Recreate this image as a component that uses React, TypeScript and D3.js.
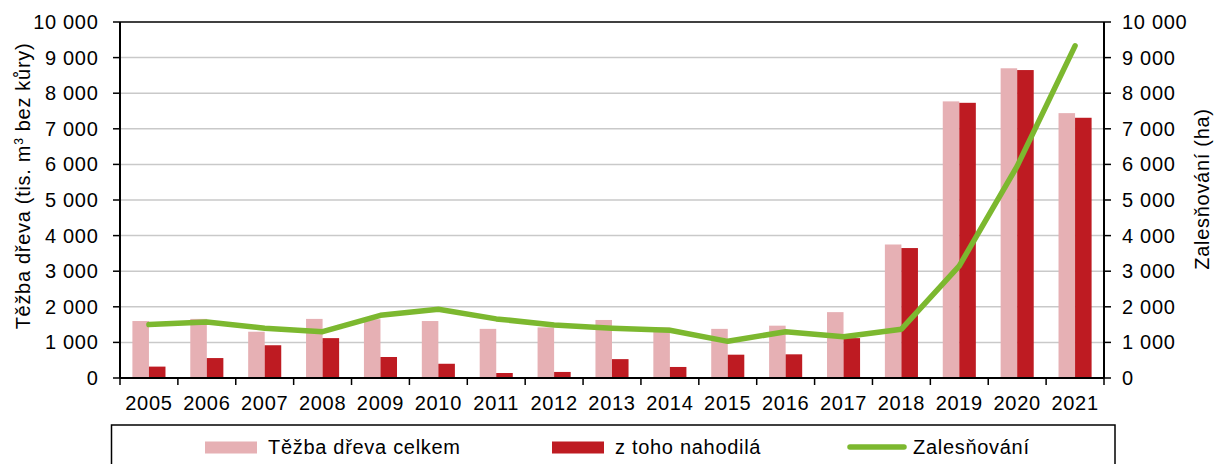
import React from "react";
import * as d3 from "d3";

const years = ["2005","2006","2007","2008","2009","2010","2011","2012","2013","2014","2015","2016","2017","2018","2019","2020","2021"];
const tezbaCelkem = [1600,1660,1300,1660,1650,1600,1380,1420,1630,1420,1380,1470,1850,3750,7770,8700,7440];
const nahodila = [320,560,920,1120,590,400,140,170,530,310,655,665,1120,3650,7730,8650,7310];
const zalesnovani = [1500,1570,1400,1300,1760,1930,1660,1490,1400,1340,1030,1300,1160,1370,3150,5950,9330];
const yTicks = [0,1000,2000,3000,4000,5000,6000,7000,8000,9000,10000];

const W = 1215, H = 464;
const L = 120, R = 1104, T = 22, B = 378;
const FONT = "'Liberation Sans', Arial, sans-serif";
const PINK = "#e6b0b4", RED = "#be1b22", GREEN = "#7cb82f";
const FS = 20;
const LS = 0.7;

const fmt = (v: number) => {
  const s = String(v);
  return s.replace(/\B(?=(\d{3})+(?!\d))/g, "\u00a0");
};

export default function App() {
  const x = d3.scaleBand<string>().domain(years).range([L, R]).padding(0);
  const yL = d3.scaleLinear().domain([0, 10000]).range([B, T]);
  const yR = d3.scaleLinear().domain([0, 10000]).range([B, T]);
  const step = x.bandwidth();
  const bw = step / 3.5;
  const off = bw * 0.75;
  const line = d3.line<number>()
    .x((_, i) => (x(years[i]) as number) + step / 2)
    .y((d) => yR(d));

  return (
    <div style={{ position: "absolute", left: 0, top: 0 }}>
      <svg width={W} height={H} style={{ display: "block", fontFamily: FONT, letterSpacing: LS }}>
        <rect width={W} height={H} fill="#fff" />
        {yTicks.slice(1, -1).map((t) => (
          <line key={"g" + t} x1={L} x2={R} y1={yL(t)} y2={yL(t)} stroke="#c9c9c9" strokeWidth={1.5} />
        ))}
        {years.map((yr, i) => {
          const x0 = x(yr) as number;
          return (
            <g key={yr}>
              <rect x={x0 + off} y={yL(tezbaCelkem[i])} width={bw} height={B - yL(tezbaCelkem[i])} fill={PINK} />
              <rect x={x0 + off + bw} y={yL(nahodila[i])} width={bw} height={B - yL(nahodila[i])} fill={RED} />
            </g>
          );
        })}
        <path d={line(zalesnovani) || ""} fill="none" stroke={GREEN} strokeWidth={5.5} strokeLinejoin="round" strokeLinecap="round" />
        {/* axes */}
        <line x1={L} x2={R} y1={T} y2={T} stroke="#000" strokeWidth={1.5} />
        <line x1={L} x2={L} y1={T} y2={B} stroke="#000" strokeWidth={2} />
        <line x1={R} x2={R} y1={T} y2={B} stroke="#000" strokeWidth={2} />
        <line x1={L} x2={R} y1={B} y2={B} stroke="#000" strokeWidth={2} />
        {yTicks.map((t) => (
          <g key={"l" + t}>
            <line x1={L - 7} x2={L} y1={yL(t)} y2={yL(t)} stroke="#000" strokeWidth={1.5} />
            <text x={98.5} y={yL(t)} dy="0.35em" textAnchor="end" fontSize={FS} fill="#000">{fmt(t)}</text>
            <line x1={R} x2={R + 7} y1={yR(t)} y2={yR(t)} stroke="#000" strokeWidth={1.5} />
            <text x={1122} y={yR(t)} dy="0.35em" textAnchor="start" fontSize={FS} fill="#000">{fmt(t)}</text>
          </g>
        ))}
        {years.map((yr) => (
          <line key={"xt" + yr} x1={x(yr) as number} x2={x(yr) as number} y1={B} y2={B + 7} stroke="#000" strokeWidth={1.5} />
        ))}
        <line x1={R} x2={R} y1={B} y2={B + 7} stroke="#000" strokeWidth={1.5} />
        {years.map((yr) => (
          <text key={"xl" + yr} x={(x(yr) as number) + step / 2} y={410} textAnchor="middle" fontSize={FS} fill="#000">{yr}</text>
        ))}
        <text transform={`translate(30,186) rotate(-90)`} textAnchor="middle" fontSize={FS} fill="#000">
          Těžba dřeva (tis. m<tspan baseline-shift="super" fontSize={12}>3</tspan> bez kůry)
        </text>
        <text transform={`translate(1209,189) rotate(-90)`} textAnchor="middle" fontSize={FS} fill="#000">Zalesňování (ha)</text>
        {/* legend */}
        <rect x={111.5} y={425} width={1003.5} height={50} fill="none" stroke="#000" strokeWidth={1.5} />
        <rect x={205} y={441.5} width={52} height={12} fill={PINK} />
        <text x={268} y={454} fontSize={FS} fill="#000">Těžba dřeva celkem</text>
        <rect x={552} y={441.5} width={52} height={12} fill={RED} />
        <text x={615} y={454} fontSize={FS} fill="#000">z toho nahodilá</text>
        <line x1={850} x2={904} y1={447} y2={447} stroke={GREEN} strokeWidth={5.5} strokeLinecap="round" />
        <text x={913} y={454} fontSize={FS} fill="#000">Zalesňování</text>
      </svg>
    </div>
  );
}
